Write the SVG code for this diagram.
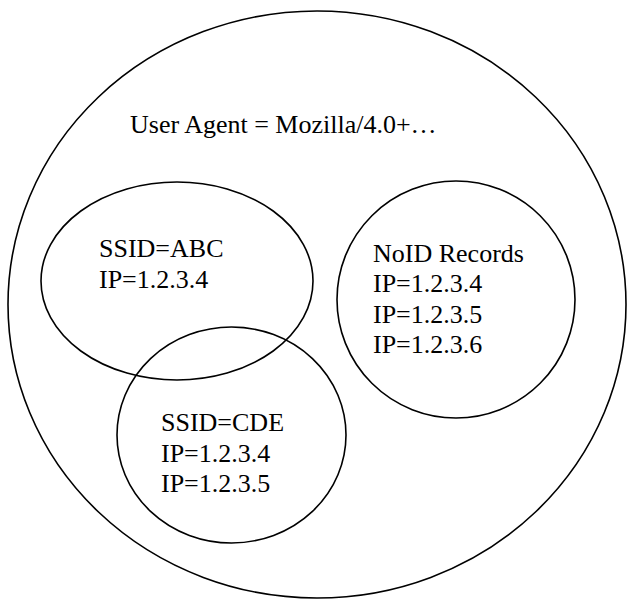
<svg xmlns="http://www.w3.org/2000/svg" width="627" height="600" viewBox="0 0 627 600">
<style>
.s{fill:none;stroke:#000;stroke-width:1.6}
text{font-family:"Liberation Serif","Times New Roman",serif;font-size:26px;fill:#000}
</style>
<rect width="627" height="600" fill="#fff"/>
<g id="user-agent">
<ellipse class="s" cx="317" cy="304.5" rx="309" ry="293.5"/>
<text x="130" y="133">User Agent = Mozilla/4.0+…</text>
</g>
<g id="ssid-abc">
<ellipse class="s" cx="177" cy="281" rx="136" ry="99"/>
<text x="99" y="257">SSID=ABC</text>
<text x="99" y="288">IP=1.2.3.4</text>
</g>
<g id="noid">
<ellipse class="s" cx="456" cy="299.5" rx="119" ry="118.5"/>
<text x="373" y="262">NoID Records</text>
<text x="373" y="292">IP=1.2.3.4</text>
<text x="373" y="323">IP=1.2.3.5</text>
<text x="373" y="353">IP=1.2.3.6</text>
</g>
<g id="ssid-cde">
<ellipse class="s" cx="231.5" cy="435" rx="114.5" ry="108"/>
<text x="161" y="431">SSID=CDE</text>
<text x="161" y="462">IP=1.2.3.4</text>
<text x="161" y="492">IP=1.2.3.5</text>
</g>
<g id="connectors"/>
</svg>
